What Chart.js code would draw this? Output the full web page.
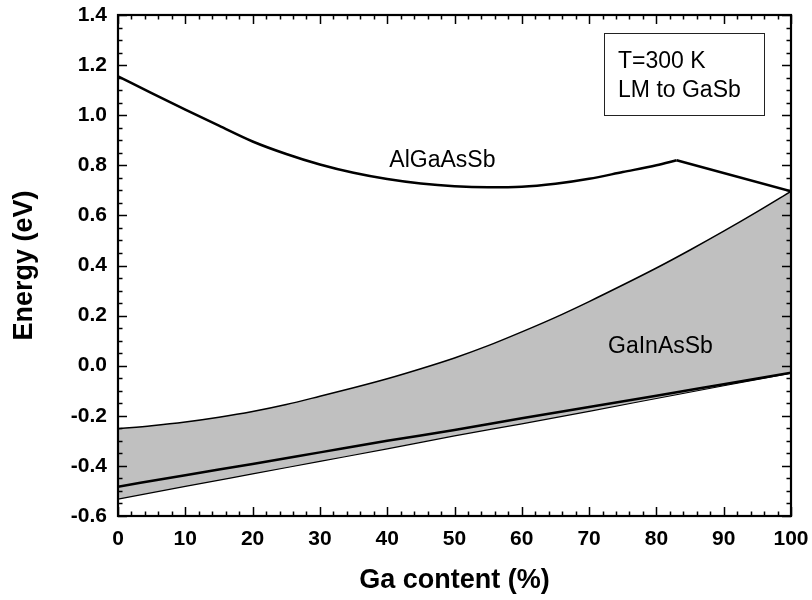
<!DOCTYPE html>
<html>
<head>
<meta charset="utf-8">
<script src="https://cdn.jsdelivr.net/npm/chart.js@4.4.1/dist/chart.umd.min.js"></script>
<style>
    html, body { margin: 0; padding: 0; background: #fff; }
    #wrap { width: 812px; height: 600px; }
</style>
</head>
<body>
<div id="wrap"><canvas id="energy-chart" width="812" height="600"></canvas></div>
<script>
// Ga content (%) and band energies (eV)
var algaLeftX = [0, 5, 10, 15, 20, 25, 30, 35, 40, 45, 50, 55, 60, 65, 70, 75, 80, 83];
var algaLeftY = [1.155, 1.088, 1.022, 0.958, 0.895, 0.845, 0.803, 0.770, 0.745, 0.727, 0.716, 0.712, 0.714, 0.726, 0.746, 0.773, 0.800, 0.820];
var algaRightX = [83, 100];
var algaRightY = [0.820, 0.696];

var gainUpperX = [0, 5, 10, 15, 20, 25, 30, 35, 40, 45, 50, 55, 60, 65, 70, 75, 80, 85, 90, 95, 100];
var gainUpperY = [-0.252, -0.240, -0.225, -0.206, -0.183, -0.155, -0.122, -0.088, -0.052, -0.012, 0.031, 0.080, 0.135, 0.193, 0.256, 0.322, 0.390, 0.462, 0.537, 0.615, 0.696];

var gainX = [0, 10, 20, 30, 40, 50, 60, 70, 80, 90, 100];
var gainMidY = [-0.483, -0.437, -0.392, -0.346, -0.300, -0.257, -0.210, -0.165, -0.120, -0.074, -0.028];
var gainLowY = [-0.533, -0.482, -0.432, -0.382, -0.332, -0.280, -0.232, -0.182, -0.131, -0.080, -0.030];

var xTickValues = [0, 10, 20, 30, 40, 50, 60, 70, 80, 90, 100];
var yTickValues = [-0.6, -0.4, -0.2, 0.0, 0.2, 0.4, 0.6, 0.8, 1.0, 1.2, 1.4];

var insetLines = ['T=300 K', 'LM to GaSb'];

function toPoints(xs, ys) {
    var pts = [];
    for (var i = 0; i < xs.length; i++) {
        pts.push({ x: xs[i], y: ys[i] });
    }
    return pts;
}

var FONT = '"Liberation Sans", Arial, sans-serif';

// frame, inward major/minor ticks on all four sides, and in-plot labels
var framePlugin = {
    id: 'frame',
    afterDraw: function(chart) {
        var ctx = chart.ctx;
        var xs = chart.scales.x;
        var ys = chart.scales.y;
        var a = chart.chartArea;
        var v, p, len;

        ctx.save();
        ctx.strokeStyle = '#000';
        ctx.lineWidth = 1.5;
        ctx.beginPath();
        for (v = 0; v <= 100; v += 2) {
            p = Math.round(xs.getPixelForValue(v)) + 0.5;
            len = (v % 10 === 0) ? 9 : 4.5;
            ctx.moveTo(p, a.bottom); ctx.lineTo(p, a.bottom - len);
            ctx.moveTo(p, a.top); ctx.lineTo(p, a.top + len);
        }
        for (v = -60; v <= 140; v += 5) {
            p = Math.round(ys.getPixelForValue(v / 100)) + 0.5;
            len = (v % 20 === 0) ? 9 : 4.5;
            ctx.moveTo(a.left, p); ctx.lineTo(a.left + len, p);
            ctx.moveTo(a.right, p); ctx.lineTo(a.right - len, p);
        }
        ctx.stroke();

        ctx.lineWidth = 2.2;
        ctx.strokeRect(a.left, a.top, a.right - a.left, a.bottom - a.top);

        // curve names
        ctx.fillStyle = '#000';
        ctx.font = '23px ' + FONT;
        ctx.textAlign = 'center';
        ctx.textBaseline = 'middle';
        ctx.fillText('AlGaAsSb', xs.getPixelForValue(48.2), ys.getPixelForValue(0.82));
        ctx.fillText('GaInAsSb', xs.getPixelForValue(80.6), ys.getPixelForValue(0.076));

        // inset box
        var bx0 = xs.getPixelForValue(72.2), bx1 = xs.getPixelForValue(95.9);
        var by0 = ys.getPixelForValue(1.328), by1 = ys.getPixelForValue(1.0);
        ctx.lineWidth = 1;
        ctx.strokeStyle = '#222';
        ctx.strokeRect(Math.round(bx0) + 0.5, Math.round(by0) + 0.5, Math.round(bx1 - bx0), Math.round(by1 - by0));
        ctx.textAlign = 'left';
        ctx.fillText(insetLines[0], xs.getPixelForValue(74.3), ys.getPixelForValue(1.212));
        ctx.fillText(insetLines[1], xs.getPixelForValue(74.3), ys.getPixelForValue(1.096));
        ctx.restore();
    }
};

var ctx = document.getElementById('energy-chart').getContext('2d');

new Chart(ctx, {
    type: 'line',
    data: {
        datasets: [{
            label: 'AlGaAsSb',
            data: toPoints(algaLeftX, algaLeftY),
            borderColor: '#000',
            borderWidth: 2.5,
            cubicInterpolationMode: 'monotone',
            pointRadius: 0,
            fill: false
        }, {
            label: 'AlGaAsSb (high Ga)',
            data: toPoints(algaRightX, algaRightY),
            borderColor: '#000',
            borderWidth: 2.5,
            pointRadius: 0,
            fill: false
        }, {
            label: 'GaInAsSb upper',
            data: toPoints(gainUpperX, gainUpperY),
            borderColor: '#000',
            borderWidth: 1.5,
            cubicInterpolationMode: 'monotone',
            pointRadius: 0,
            fill: { target: 4 },
            backgroundColor: '#c0c0c0'
        }, {
            label: 'GaInAsSb mid',
            data: toPoints(gainX, gainMidY),
            borderColor: '#000',
            borderWidth: 2.5,
            cubicInterpolationMode: 'monotone',
            pointRadius: 0,
            fill: false
        }, {
            label: 'GaInAsSb lower',
            data: toPoints(gainX, gainLowY),
            borderColor: '#000',
            borderWidth: 1.2,
            cubicInterpolationMode: 'monotone',
            pointRadius: 0,
            fill: false
        }]
    },
    options: {
        responsive: false,
        animation: false,
        layout: { padding: { left: 0, right: 21, top: 15, bottom: 0 } },
        plugins: {
            legend: { display: false },
            tooltip: { enabled: false },
            filler: { drawTime: 'beforeDatasetsDraw' }
        },
        scales: {
            x: {
                type: 'linear',
                min: 0,
                max: 100,
                afterFit: function(scale) {
                    scale.height = 84;
                    scale.paddingLeft = 0;
                    scale.paddingRight = 0;
                },
                afterBuildTicks: function(scale) {
                    scale.ticks = xTickValues.map(function(v) { return { value: v }; });
                },
                grid: { display: false, drawTicks: false },
                border: { display: false },
                ticks: {
                    color: '#000',
                    padding: 11,
                    maxRotation: 0,
                    font: { family: FONT, size: 21, weight: 'bold' }
                },
                title: {
                    display: true,
                    text: 'Ga content (%)',
                    color: '#000',
                    padding: { top: 0, bottom: 3 },
                    font: { family: FONT, size: 27, weight: 'bold' }
                }
            },
            y: {
                type: 'linear',
                min: -0.6,
                max: 1.4,
                afterFit: function(scale) {
                    scale.width = 118;
                    scale.paddingTop = 0;
                    scale.paddingBottom = 0;
                },
                afterBuildTicks: function(scale) {
                    scale.ticks = yTickValues.map(function(v) { return { value: v }; });
                },
                grid: { display: false, drawTicks: false },
                border: { display: false },
                ticks: {
                    color: '#000',
                    padding: 11,
                    font: { family: FONT, size: 21, weight: 'bold' },
                    callback: function(value) { return value.toFixed(1); }
                },
                title: {
                    display: true,
                    text: 'Energy (eV)',
                    color: '#000',
                    padding: { top: 8, bottom: 6 },
                    font: { family: FONT, size: 27, weight: 'bold' }
                }
            }
        }
    },
    plugins: [framePlugin]
});
</script>
</body>
</html>
